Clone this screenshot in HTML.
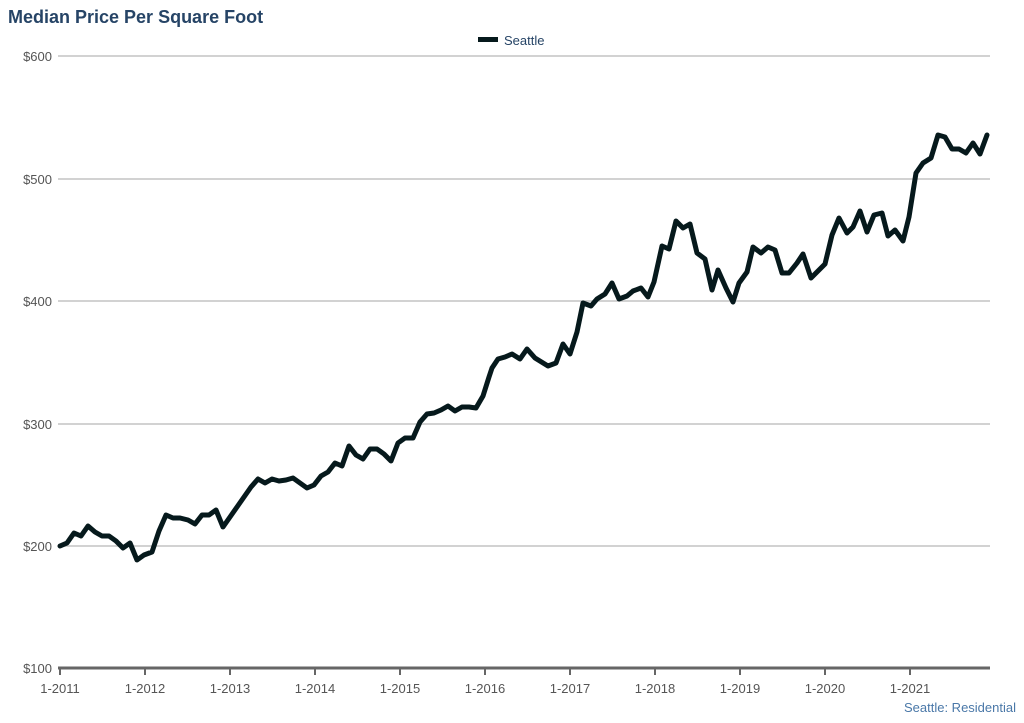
<!DOCTYPE html>
<html><head><meta charset="utf-8"><style>
html,body{margin:0;padding:0;background:#fff;}
body{width:1024px;height:718px;overflow:hidden;font-family:"Liberation Sans",sans-serif;}
</style></head><body>
<svg width="1024" height="718" xmlns="http://www.w3.org/2000/svg" font-family="Liberation Sans, sans-serif">
<text x="8" y="23" font-size="18" font-weight="bold" fill="#264466">Median Price Per Square Foot</text>
<rect x="478" y="37" width="20" height="5" fill="#06191c"/>
<text x="504" y="45" font-size="13" fill="#264466">Seattle</text>
<g stroke="#c4c4c4" stroke-width="1.5">
<line x1="58" y1="56" x2="990" y2="56"/>
<line x1="58" y1="179" x2="990" y2="179"/>
<line x1="58" y1="301" x2="990" y2="301"/>
<line x1="58" y1="424" x2="990" y2="424"/>
<line x1="58" y1="546" x2="990" y2="546"/>
</g>
<line x1="58" y1="668" x2="990" y2="668" stroke="#666" stroke-width="3"/>
<g stroke="#666" stroke-width="2">
<line x1="60" y1="668" x2="60" y2="675"/><line x1="145" y1="668" x2="145" y2="675"/><line x1="230" y1="668" x2="230" y2="675"/><line x1="315" y1="668" x2="315" y2="675"/><line x1="400" y1="668" x2="400" y2="675"/><line x1="485" y1="668" x2="485" y2="675"/><line x1="570" y1="668" x2="570" y2="675"/><line x1="655" y1="668" x2="655" y2="675"/><line x1="740" y1="668" x2="740" y2="675"/><line x1="825" y1="668" x2="825" y2="675"/><line x1="910" y1="668" x2="910" y2="675"/>
</g>
<g font-size="13" fill="#555" text-anchor="end">
<text x="52" y="61">$600</text><text x="52" y="184">$500</text><text x="52" y="306">$400</text><text x="52" y="429">$300</text><text x="52" y="551">$200</text><text x="52" y="673">$100</text>
</g>
<g font-size="13" fill="#555" text-anchor="middle">
<text x="60" y="693">1-2011</text><text x="145" y="693">1-2012</text><text x="230" y="693">1-2013</text><text x="315" y="693">1-2014</text><text x="400" y="693">1-2015</text><text x="485" y="693">1-2016</text><text x="570" y="693">1-2017</text><text x="655" y="693">1-2018</text><text x="740" y="693">1-2019</text><text x="825" y="693">1-2020</text><text x="910" y="693">1-2021</text>
</g>
<text x="1016" y="712" font-size="13" fill="#4a78a8" text-anchor="end">Seattle: Residential</text>
<polyline fill="none" stroke="#06191c" stroke-width="5" stroke-linejoin="round" stroke-linecap="round" points="60,546 67,543 74,533 81,536 88,526 95,532 102,536 109,536 116,541 123,548 130,543 137,560 144,555 152,552 159,531 166,515 173,518 180,518 188,520 195,524 202,515 209,515 216,510 223,527 230,517 237,507 244,497 251,487 258,479 265,483 272,479 279,481 286,480 293,478 300,483 307,488 314,485 321,476 328,472 335,463 342,466 349,446 356,455 363,459 370,449 377,449 384,454 391,461 398,443 405,438 413,438 420,422 427,414 434,413 441,410 448,406 455,411 462,407 469,407 476,408 483,396 489,377 492,368 498,359 505,357 512,354 520,359 527,349 535,358 548,366 556,363 563,344 570,354 577,332 583,303 591,306 597,299 605,294 612,283 619,299 627,296 633,291 641,288 648,297 654,282 662,246 669,249 676,221 683,228 690,224 697,253 705,259 712,290 718,270 726,288 733,302 739,283 747,272 753,247 761,253 768,247 775,250 782,273 789,273 797,263 803,254 811,278 817,272 825,264 832,235 839,218 847,233 853,227 860,211 867,232 874,215 882,213 888,236 895,230 903,241 909,217 916,173 923,163 931,158 938,135 945,137 952,149 959,149 966,153 973,143 980,154 987,135"/>
</svg>
</body></html>
